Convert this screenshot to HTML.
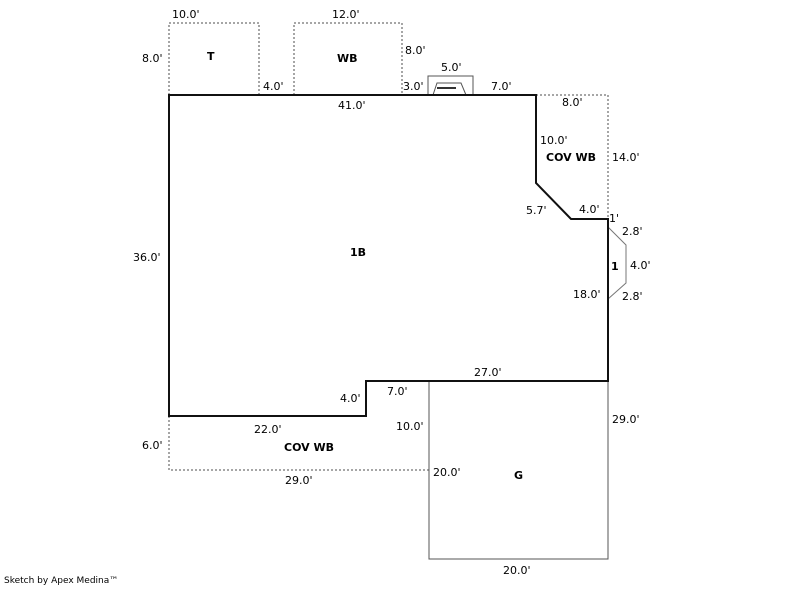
<!DOCTYPE html>
<html><head><style>
body{margin:0;background:#fff;width:800px;height:587px;overflow:hidden}
svg text{font-family:Verdana,"DejaVu Sans",sans-serif;font-size:11px;fill:#000}
</style></head><body>
<svg width="800" height="587" viewBox="0 0 800 587">
<g fill="none" stroke="#888" stroke-width="1.5" stroke-dasharray="2,2">
<polyline points="169,95 169,23 259,23 259,95"/>
<polyline points="294,95 294,23 402,23 402,95"/>
<polyline points="536,95 608,95 608,219"/>
<polyline points="169,416 169,470 429,470"/>
</g>
<g fill="none" stroke="#555" stroke-width="1">
<rect x="429" y="381" width="179" height="178"/>
<polyline points="428,95 428,76 473,76 473,95"/>
<polyline points="433,95 437,83 461,83 466,95"/>
</g>
<line x1="437" y1="88" x2="456" y2="88" stroke="#333" stroke-width="2"/>
<polyline points="608,227 626,245 626,283 608,299" fill="none" stroke="#777" stroke-width="1"/>
<polygon points="169,95 536,95 536,183 571,219 608,219 608,381 366,381 366,416 169,416" fill="none" stroke="#111" stroke-width="2"/>
<text x="172" y="18">10.0'</text>
<text x="332" y="18">12.0'</text>
<text x="142" y="62">8.0'</text>
<text x="405" y="54">8.0'</text>
<text x="207" y="60" font-weight="bold">T</text>
<text x="337" y="62" font-weight="bold">WB</text>
<text x="263" y="90">4.0'</text>
<text x="403" y="90">3.0'</text>
<text x="441" y="71">5.0'</text>
<text x="491" y="90">7.0'</text>
<text x="338" y="109">41.0'</text>
<text x="562" y="106">8.0'</text>
<text x="540" y="144">10.0'</text>
<text x="546" y="161" font-weight="bold">COV WB</text>
<text x="612" y="161">14.0'</text>
<text x="526" y="214">5.7'</text>
<text x="579" y="213">4.0'</text>
<text x="609" y="222">1'</text>
<text x="622" y="235">2.8'</text>
<text x="611" y="270" font-weight="bold">1</text>
<text x="630" y="269">4.0'</text>
<text x="573" y="298">18.0'</text>
<text x="622" y="300">2.8'</text>
<text x="133" y="261">36.0'</text>
<text x="350" y="256" font-weight="bold">1B</text>
<text x="474" y="376">27.0'</text>
<text x="387" y="395">7.0'</text>
<text x="340" y="402">4.0'</text>
<text x="612" y="423">29.0'</text>
<text x="254" y="433">22.0'</text>
<text x="396" y="430">10.0'</text>
<text x="142" y="449">6.0'</text>
<text x="284" y="451" font-weight="bold">COV WB</text>
<text x="433" y="476">20.0'</text>
<text x="514" y="479" font-weight="bold">G</text>
<text x="285" y="484">29.0'</text>
<text x="503" y="574">20.0'</text>
<text x="4" y="583" style="font-size:9px">Sketch by Apex Medina™</text>
</svg>
</body></html>
